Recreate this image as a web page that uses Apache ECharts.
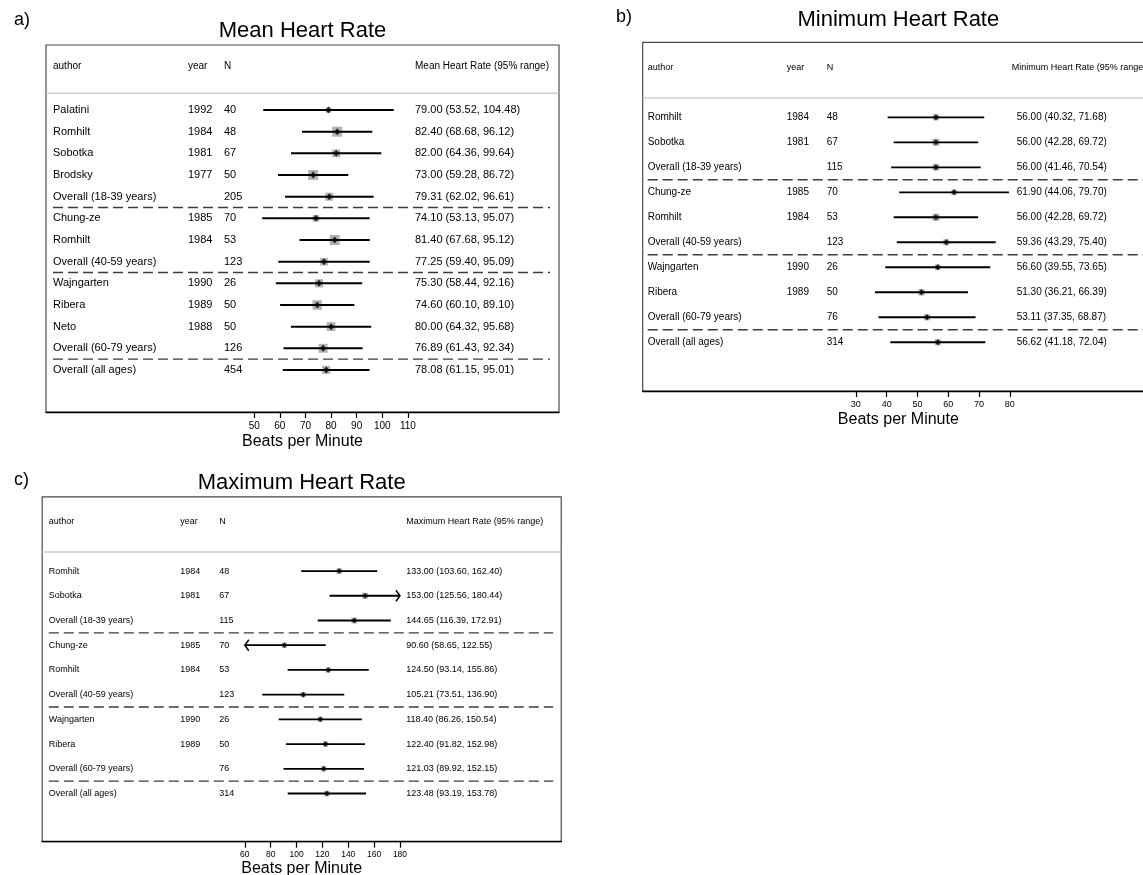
<!DOCTYPE html>
<html>
<head>
<meta charset="utf-8">
<title>Heart Rate forest plots</title>
<script src="https://cdn.jsdelivr.net/npm/echarts@6/dist/echarts.min.js"></script>
<style>
  html, body { margin: 0; padding: 0; background: #fff; }
  #chart { width: 1143px; height: 875px; }
</style>
</head>
<body>
<div id="chart"></div>
<script>
// ---- a) Mean heart rate ----
const authorsMean = ['Palatini', 'Romhilt', 'Sobotka', 'Brodsky', 'Overall (18-39 years)',
  'Chung-ze', 'Romhilt', 'Overall (40-59 years)',
  'Wajngarten', 'Ribera', 'Neto', 'Overall (60-79 years)', 'Overall (all ages)'];
const yearsMean = ['1992', '1984', '1981', '1977', '', '1985', '1984', '', '1990', '1989', '1988', '', ''];
const nMean = [40, 48, 67, 50, 205, 70, 53, 123, 26, 50, 50, 126, 454];
const estMean = [79.00, 82.40, 82.00, 73.00, 79.31, 74.10, 81.40, 77.25, 75.30, 74.60, 80.00, 76.89, 78.08];
const lowMean = [53.52, 68.68, 64.36, 59.28, 62.02, 53.13, 67.68, 59.40, 58.44, 60.10, 64.32, 61.43, 61.15];
const highMean = [104.48, 96.12, 99.64, 86.72, 96.61, 95.07, 95.12, 95.09, 92.16, 89.10, 95.68, 92.34, 95.01];
const groupEndsMean = [4, 7, 11];
const ticksMean = [50, 60, 70, 80, 90, 100, 110];

// ---- b) Minimum heart rate ----
const authorsMin = ['Romhilt', 'Sobotka', 'Overall (18-39 years)', 'Chung-ze', 'Romhilt',
  'Overall (40-59 years)', 'Wajngarten', 'Ribera', 'Overall (60-79 years)', 'Overall (all ages)'];
const yearsMin = ['1984', '1981', '', '1985', '1984', '', '1990', '1989', '', ''];
const nMin = [48, 67, 115, 70, 53, 123, 26, 50, 76, 314];
const estMin = [56.00, 56.00, 56.00, 61.90, 56.00, 59.36, 56.60, 51.30, 53.11, 56.62];
const lowMin = [40.32, 42.28, 41.46, 44.06, 42.28, 43.29, 39.55, 36.21, 37.35, 41.18];
const highMin = [71.68, 69.72, 70.54, 79.70, 69.72, 75.40, 73.65, 66.39, 68.87, 72.04];
const groupEndsMin = [2, 5, 8];
const ticksMin = [30, 40, 50, 60, 70, 80];

// ---- c) Maximum heart rate ----
const authorsMax = ['Romhilt', 'Sobotka', 'Overall (18-39 years)', 'Chung-ze', 'Romhilt',
  'Overall (40-59 years)', 'Wajngarten', 'Ribera', 'Overall (60-79 years)', 'Overall (all ages)'];
const yearsMax = ['1984', '1981', '', '1985', '1984', '', '1990', '1989', '', ''];
const nMax = [48, 67, 115, 70, 53, 123, 26, 50, 76, 314];
const estMax = [133.00, 153.00, 144.65, 90.60, 124.50, 105.21, 118.40, 122.40, 121.03, 123.48];
const lowMax = [103.60, 125.56, 116.39, 58.65, 93.14, 73.51, 86.26, 91.82, 89.92, 93.19];
const highMax = [162.40, 180.44, 172.91, 122.55, 155.86, 136.90, 150.54, 152.98, 152.15, 153.78];
const groupEndsMax = [2, 5, 8];
const ticksMax = [60, 80, 100, 120, 140, 160, 180];

const FONT = '"Liberation Sans", Arial, Helvetica, sans-serif';
const XLAB = 'Beats per Minute';

// Layout of each forest plot: frame box, axis window and text columns (px from box left)
const panels = [
  {
    letter: 'a)', title: 'Mean Heart Rate', header: 'Mean Heart Rate (95% range)',
    authors: authorsMean, years: yearsMean, n: nMean, est: estMean, low: lowMean, high: highMean,
    groupEnds: groupEndsMean, ticks: ticksMean, clip: [ticksMean[0], ticksMean[ticksMean.length - 1]],
    box: { left: 46, top: 45, width: 513, height: 367 }, xMin: -31.3, xMax: 169, yMax: 13.94,
    cols: { author: 7, year: 142, n: 178, ci: 369, ciHead: 369 }, dashEnd: 9,
    font: 11, headFont: 10, tickFont: 10, labelMargin: 9, nameGap: 22,
    boxMax: 10, dot: [6, 7], lw: 2,
    titleY: 31, letterX: 14, letterY: 20
  },
  {
    letter: 'b)', title: 'Minimum Heart Rate', header: 'Minimum Heart Rate (95% range)',
    authors: authorsMin, years: yearsMin, n: nMin, est: estMin, low: lowMin, high: highMin,
    groupEnds: groupEndsMin, ticks: ticksMin, clip: [ticksMin[0], ticksMin[ticksMin.length - 1]],
    box: { left: 642.7, top: 42.3, width: 511.3, height: 348.7 }, xMin: -39.2, xMax: 126.8, yMax: 10.95,
    cols: { author: 5, year: 144, n: 184, ci: 374, ciHead: 369 }, dashEnd: 9,
    font: 10, headFont: 9, tickFont: 9, labelMargin: 9, nameGap: 21,
    boxMax: 7, dot: [5.5, 6.5], lw: 1.8,
    titleY: 20, letterX: 616, letterY: 17
  },
  {
    letter: 'c)', title: 'Maximum Heart Rate', header: 'Maximum Heart Rate (95% range)',
    authors: authorsMax, years: yearsMax, n: nMax, est: estMax, low: lowMax, high: highMax,
    groupEnds: groupEndsMax, ticks: ticksMax, clip: [ticksMax[0], ticksMax[ticksMax.length - 1]],
    box: { left: 42.2, top: 496.9, width: 519, height: 344.8 }, xMin: -96.7, xMax: 304.7, yMax: 10.95,
    cols: { author: 6.6, year: 138, n: 177, ci: 364, ciHead: 364 }, dashEnd: 8,
    font: 9, headFont: 9, tickFont: 8.5, labelMargin: 8, nameGap: 19,
    boxMax: 6, dot: [5, 6], lw: 1.8,
    titleY: 483, letterX: 14, letterY: 480
  }
];

const grids = [], xAxes = [], yAxes = [], series = [], graphics = [];

function txt(x, y, s, size, align) {
  return {
    type: 'text', x: x, y: y,
    style: { text: s, fontSize: size, fontFamily: FONT, fill: '#000', align: align || 'left', verticalAlign: 'middle' }
  };
}

panels.forEach(function (p, k) {
  const bx = p.box;
  grids.push({
    left: bx.left, top: bx.top, width: bx.width, height: bx.height,
    show: true, borderColor: '#4a4a4a', borderWidth: 1.2, backgroundColor: '#fff',
    containLabel: false, outerBoundsMode: 'none'
  });
  xAxes.push({
    gridIndex: k, type: 'value', min: p.xMin, max: p.xMax, position: 'bottom',
    axisLine: { show: true, onZero: false, lineStyle: { color: '#000', width: 1.4 } },
    axisTick: { show: true, customValues: p.ticks, length: 6, inside: false, lineStyle: { color: '#000', width: 1.2 } },
    axisLabel: { show: true, customValues: p.ticks, fontSize: p.tickFont, color: '#000', margin: p.labelMargin, fontFamily: FONT },
    splitLine: { show: false },
    name: XLAB, nameLocation: 'middle', nameGap: p.nameGap,
    nameTextStyle: { fontSize: 16, color: '#000', fontFamily: FONT }
  });
  yAxes.push({ gridIndex: k, type: 'value', inverse: true, min: -3, max: p.yMax, show: false });

  // header row, header rule and dashed dividers between age groups
  series.push({
    type: 'custom', xAxisIndex: k, yAxisIndex: k, z: 1, silent: true,
    data: [[0, -2]],
    renderItem: function (params, api) {
      const yHead = api.coord([0, -2])[1];
      const yRule = api.coord([0, -0.77])[1];
      const x0 = bx.left, x1 = bx.left + bx.width;
      const kids = [
        txt(x0 + p.cols.author, yHead, 'author', p.headFont),
        txt(x0 + p.cols.year, yHead, 'year', p.headFont),
        txt(x0 + p.cols.n, yHead, 'N', p.headFont),
        txt(x0 + p.cols.ciHead, yHead, p.header, p.headFont),
        { type: 'line', shape: { x1: x0, y1: yRule, x2: x1, y2: yRule }, style: { stroke: '#cdcdcd', lineWidth: 1.5 } }
      ];
      p.groupEnds.forEach(function (r) {
        const yd = api.coord([0, r + 0.5])[1];
        kids.push({
          type: 'line', shape: { x1: x0 + p.cols.author, y1: yd, x2: x1 - p.dashEnd, y2: yd },
          style: { stroke: '#3c3c3c', lineWidth: 1.4, lineDash: [10, 5] }
        });
      });
      return { type: 'group', children: kids };
    }
  });

  // label columns for every study row
  series.push({
    type: 'custom', xAxisIndex: k, yAxisIndex: k, z: 5, silent: true,
    data: p.authors.map(function (_, i) { return [0, i]; }),
    renderItem: function (params, api) {
      const i = params.dataIndex;
      const y = api.coord([0, api.value(1)])[1];
      const x0 = bx.left;
      const ci = p.est[i].toFixed(2) + ' (' + p.low[i].toFixed(2) + ', ' + p.high[i].toFixed(2) + ')';
      return {
        type: 'group', children: [
          txt(x0 + p.cols.author, y, p.authors[i], p.font),
          txt(x0 + p.cols.year, y, p.years[i], p.font),
          txt(x0 + p.cols.n, y, String(p.n[i]), p.font),
          txt(x0 + p.cols.ci, y, ci, p.font)
        ]
      };
    }
  });

  // grey precision boxes, side proportional to 1 / interval width
  const minWidth = Math.min.apply(null, p.high.map(function (h, i) { return h - p.low[i]; }));
  series.push({
    type: 'scatter', xAxisIndex: k, yAxisIndex: k, z: 2, silent: true,
    symbol: 'rect',
    symbolSize: function (v, params) {
      const i = params.dataIndex;
      return p.boxMax * minWidth / (p.high[i] - p.low[i]);
    },
    itemStyle: { color: '#b3b3b3', opacity: 1 },
    data: p.est.map(function (e, i) { return [e, i]; })
  });

  // 95% range lines, with arrow heads where a range runs past the axis
  series.push({
    type: 'custom', xAxisIndex: k, yAxisIndex: k, z: 3, silent: true,
    data: p.est.map(function (e, i) { return [p.low[i], p.high[i], i]; }),
    encode: { x: [0, 1], y: 2 },
    renderItem: function (params, api) {
      const lo = api.value(0), hi = api.value(1), row = api.value(2);
      const cl = Math.max(lo, p.clip[0]), ch = Math.min(hi, p.clip[1]);
      const a = api.coord([cl, row]), b = api.coord([ch, row]);
      const kids = [{ type: 'line', shape: { x1: a[0], y1: a[1], x2: b[0], y2: b[1] }, style: { stroke: '#000', lineWidth: p.lw } }];
      const head = { stroke: '#000', lineWidth: 1.5, fill: null };
      if (lo < p.clip[0]) {
        kids.push({ type: 'polyline', shape: { points: [[a[0] + 4, a[1] - 5.5], [a[0], a[1]], [a[0] + 4, a[1] + 5.5]] }, style: head });
      }
      if (hi > p.clip[1]) {
        kids.push({ type: 'polyline', shape: { points: [[b[0] - 4, b[1] - 5.5], [b[0], b[1]], [b[0] - 4, b[1] + 5.5]] }, style: head });
      }
      return { type: 'group', children: kids };
    }
  });

  // point estimates
  series.push({
    type: 'scatter', xAxisIndex: k, yAxisIndex: k, z: 4, silent: true,
    symbol: 'diamond', symbolSize: p.dot,
    itemStyle: { color: '#000' },
    data: p.est.map(function (e, i) { return [e, i]; })
  });

  graphics.push({
    type: 'text', x: bx.left + bx.width / 2, y: p.titleY,
    style: { text: p.title, fontSize: 22, fontFamily: FONT, fill: '#000', align: 'center', verticalAlign: 'middle' }
  });
  graphics.push({
    type: 'text', x: p.letterX, y: p.letterY,
    style: { text: p.letter, fontSize: 18, fontFamily: FONT, fill: '#000', align: 'left', verticalAlign: 'middle' }
  });
});

const chart = echarts.init(document.getElementById('chart'), null, { renderer: 'canvas' });
chart.setOption({
  animation: false,
  backgroundColor: '#fff',
  textStyle: { fontFamily: FONT },
  grid: grids,
  xAxis: xAxes,
  yAxis: yAxes,
  series: series,
  graphic: graphics
});
</script>
</body>
</html>
